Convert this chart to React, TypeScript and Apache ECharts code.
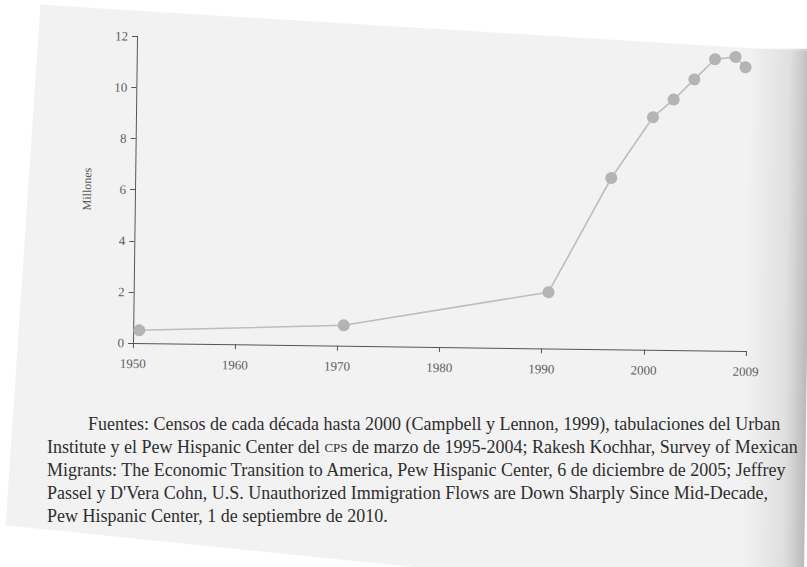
import React, { useEffect, useRef } from "react";
import * as echarts from "echarts";

// ---- data ----
const years = [1950, 1970, 1990, 1996, 2000, 2002, 2004, 2006, 2008, 2009];
const millions = [0.5, 0.8, 2.2, 6.7, 9.1, 9.8, 10.6, 11.4, 11.5, 11.1];
// points are drawn at mid-year position
const yearPlotOffset = 0.6;
const xTickYears = [1950, 1960, 1970, 1980, 1990, 2000, 2010];
const lastTickLabel = "2009";
const yTicks = [0, 2, 4, 6, 8, 10, 12];
const yAxisName = "Millones";
const captionLines = [
  "Fuentes: Censos de cada década hasta 2000 (Campbell y Lennon, 1999), tabulaciones del Urban",
  "Institute y el Pew Hispanic Center del {sc|CPS} de marzo de 1995-2004; Rakesh Kochhar, Survey of Mexican",
  "Migrants: The Economic Transition to America, Pew Hispanic Center, 6 de diciembre de 2005; Jeffrey",
  "Passel y D'Vera Cohn, U.S. Unauthorized Immigration Flows are Down Sharply Since Mid-Decade,",
  "Pew Hispanic Center, 1 de septiembre de 2010.",
];

const SERIF = "'Liberation Serif', 'DejaVu Serif', serif";

export default function App() {
  const ref = useRef<HTMLDivElement>(null);
  const capRef = useRef<HTMLDivElement>(null);
  useEffect(() => {
    if (!ref.current || !capRef.current) return;
    const chart = echarts.init(ref.current, undefined, { renderer: "svg" });
    const caption = echarts.init(capRef.current, undefined, { renderer: "svg" });
    const seriesData = years.map((y, i) => [y + yearPlotOffset, millions[i]]);
    const captionGraphics = captionLines.map((t, i) => ({
      type: "text",
      left: i === 0 ? 88 : 47,
      top: 414 + i * 23,
      z: 10,
      style: {
        text: t,
        fill: "#2e2e2e",
        fontFamily: SERIF,
        fontSize: 18,
        lineHeight: 20,
        rich: {
          sc: { fontSize: 13, fontFamily: SERIF, fill: "#2e2e2e", lineHeight: 20 },
        },
      },
    }));
    caption.setOption({
      animation: false,
      backgroundColor: "transparent",
      graphic: captionGraphics,
    });
    chart.setOption({
      animation: false,
      backgroundColor: "transparent",
      graphic: [
        {
          type: "polygon",
          z: -10,
          silent: true,
          shape: {
            points: [
              [36, 6],
              [830, 44],
              [830, 600],
              [8, 527],
            ],
          },
          style: { fill: "#f2f2f2" },
        },
        {
          type: "rect",
          z: -9,
          silent: true,
          shape: { x: 745, y: 40, width: 90, height: 560 },
          style: {
            fill: new echarts.graphic.LinearGradient(0, 0, 1, 0, [
              { offset: 0, color: "rgba(120,120,120,0)" },
              { offset: 0.45, color: "rgba(120,120,120,0.15)" },
              { offset: 0.75, color: "rgba(90,90,90,0.45)" },
              { offset: 1, color: "rgba(70,70,70,0.7)" },
            ]),
          },
        },
      ],
      grid: { left: 133, right: 61, top: 36.3, bottom: 224 },
      xAxis: {
        type: "value",
        min: xTickYears[0],
        max: xTickYears[xTickYears.length - 1],
        interval: 10,
        splitLine: { show: false },
        axisLine: { show: true, lineStyle: { color: "#555", width: 1 } },
        axisTick: { show: true, length: 5, lineStyle: { color: "#555" } },
        axisLabel: {
          margin: 14,
          color: "#5e5e5e",
          fontFamily: SERIF,
          fontSize: 13,
          formatter: (v: number) =>
            v === xTickYears[xTickYears.length - 1] ? lastTickLabel : String(v),
        },
      },
      yAxis: {
        type: "value",
        min: yTicks[0],
        max: yTicks[yTicks.length - 1],
        interval: 2,
        name: yAxisName,
        nameLocation: "middle",
        nameGap: 42,
        nameRotate: 90,
        nameTextStyle: { color: "#555", fontFamily: SERIF, fontSize: 12 },
        splitLine: { show: false },
        axisLine: { show: true, lineStyle: { color: "#555", width: 1 } },
        axisTick: { show: true, length: 5, lineStyle: { color: "#555" } },
        axisLabel: { margin: 9, color: "#5e5e5e", fontFamily: SERIF, fontSize: 13 },
      },
      series: [
        {
          type: "line",
          data: seriesData,
          symbol: "circle",
          symbolSize: 12,
          itemStyle: { color: "#b4b4b4" },
          lineStyle: { color: "#bdbdbd", width: 1.6 },
          z: 3,
        },
      ],
    });
    return () => {
      chart.dispose();
      caption.dispose();
    };
  }, []);
  return (
    <div
      style={{
        position: "fixed",
        left: 0,
        top: 0,
        width: 807,
        height: 567,
        background: "#ffffff",
        overflow: "hidden",
      }}
    >
      <div
        ref={ref}
        style={{
          position: "absolute",
          left: 0,
          top: 0,
          width: 807,
          height: 567,
          transform: "rotate(0.75deg)",
          transformOrigin: "133px 343px",
        }}
      />
      <div
        ref={capRef}
        style={{
          position: "absolute",
          left: 0,
          top: 0,
          width: 807,
          height: 567,
        }}
      />
    </div>
  );
}
